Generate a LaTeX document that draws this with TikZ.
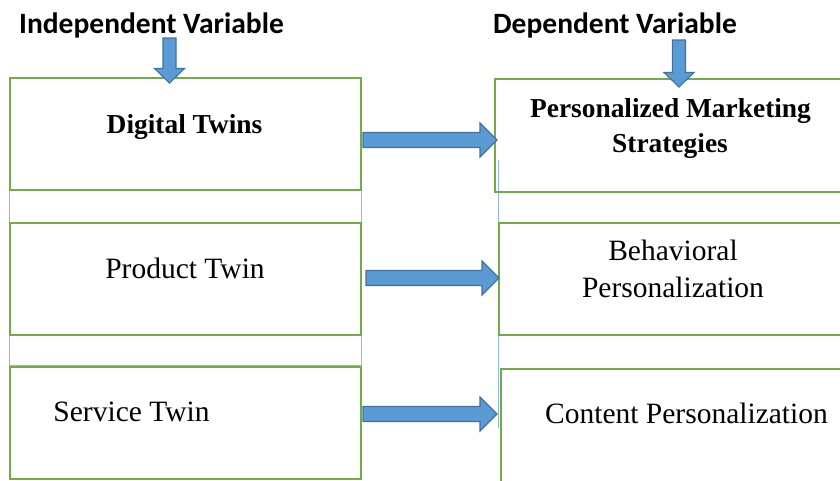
\documentclass[tikz,border=0pt]{standalone}
\usepackage{fontspec}
\setmainfont{Liberation Serif}
\newfontfamily\calibri{Carlito}
\definecolor{boxgreen}{HTML}{70AD47}
\definecolor{arrowfill}{HTML}{5B9BD5}
\definecolor{arrowborder}{HTML}{41719C}
\definecolor{faintblue}{HTML}{8FB8E0}
\tikzset{
  box/.style={draw=boxgreen, line width=1.6pt},
  guide/.style={draw=faintblue, line width=0.8pt},
  barrow/.style={draw=arrowborder, fill=arrowfill, line width=1.1pt, line join=miter},
  head/.style={font=\calibri\bfseries\fontsize{29.5}{34}\selectfont, anchor=base, inner sep=0pt},
  btxt/.style={font=\bfseries\fontsize{27.4}{32}\selectfont, anchor=base, inner sep=0pt},
  rtxt/.style={font=\fontsize{29.5}{34}\selectfont, anchor=base, inner sep=0pt},
}
% horizontal block arrow: #1 start x, #2 tip x, #3 centre y
\newcommand\blockH[3]{%
  \draw[barrow] (#1,#3-7.5) -- (#2-17,#3-7.5) -- (#2-17,#3-17) -- (#2,#3)
    -- (#2-17,#3+17) -- (#2-17,#3+7.5) -- (#1,#3+7.5) -- cycle;}
% vertical block arrow: #1 centre x, #2 top y, #3 tip y
\newcommand\blockV[3]{%
  \draw[barrow] (#1-6.5,#2) -- (#1+6.5,#2) -- (#1+6.5,#3-14.5) -- (#1+15,#3-14.5)
    -- (#1,#3) -- (#1-15,#3-14.5) -- (#1-6.5,#3-14.5) -- cycle;}
\begin{document}
\begin{tikzpicture}[x=1pt,y=-1pt]
\useasboundingbox (0,0) rectangle (840,480);
\clip (0,0) rectangle (840,480);
% faint blue guide lines
\draw[guide] (9.5,162) -- (9.5,420);
\draw[guide] (361,167) -- (361,365) -- (9.5,365);
\draw[guide] (498,160) -- (498,428);
% boxes
\draw[box] (10,78) rectangle (361,190);
\draw[box] (10,223) rectangle (361,335);
\draw[box] (10,367) rectangle (361,479);
\draw[box] (495,79) rectangle (850,192);
\draw[box] (499,223) rectangle (850,335);
\draw[box] (501,369) rectangle (850,490);
% headings
\node[head] (indep) at (151.5,33) {Independent Variable};
\node[head] (dep) at (615,33) {Dependent Variable};
% box texts
\node[btxt] (dt) at (184.5,133) {Digital Twins};
\node[rtxt] (pt) at (185,278) {Product Twin};
\node[rtxt] (st) at (131.5,421) {Service Twin};
\node[btxt] (pm1) at (670.5,117) {Personalized Marketing};
\node[btxt] (pm2) at (670,152) {Strategies};
\node[rtxt] (bp1) at (673,260) {Behavioral};
\node[rtxt] (bp2) at (673,297) {Personalization};
\node[rtxt] (cp) at (686.5,423) {Content Personalization};
% block arrows
\blockV{169.5}{38}{83}
\blockV{679}{40}{87}
\blockH{363}{497}{140}
\blockH{366}{499}{278}
\blockH{363}{497}{414}
\end{tikzpicture}
\end{document}
